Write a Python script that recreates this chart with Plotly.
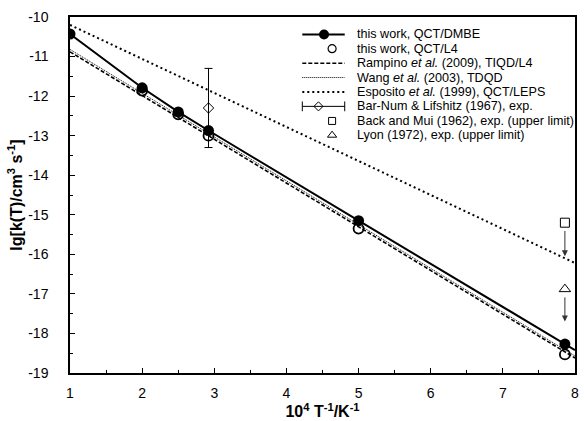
import plotly.graph_objects as go

# ---------------- data ----------------
x_dmbe = [1.0, 2.0, 2.5, 2.92, 5.0, 7.86]
y_dmbe = [-10.43, -11.79, -12.40, -12.87, -15.15, -18.27]
x_dmbe_line = [1.0, 2.0, 2.5, 2.92, 5.0, 7.86, 8.0]
y_dmbe_line = [-10.43, -11.79, -12.40, -12.87, -15.15, -18.27, -18.42]

x_l4 = [2.0, 2.5, 2.92, 5.0, 7.86]
y_l4 = [-11.86, -12.46, -13.00, -15.35, -18.53]

x_rampino = [1.0, 8.0]
y_rampino = [-10.88, -18.62]
x_wang = [1.0, 8.0]
y_wang = [-10.82, -18.57]
x_esposito = [1.0, 8.0]
y_esposito = [-10.20, -16.22]

x_barnum = [2.92]
y_barnum = [-12.30]
err_barnum = [1.0]

x_back = [7.86]
y_back = [-15.20]
back_limit_to = [-16.05]

x_lyon = [7.86]
y_lyon = [-16.88]
lyon_limit_to = [-17.70]

legend_labels = [
    "this work, QCT/DMBE",
    "this work, QCT/L4",
    "Rampino <i>et al.</i> (2009), TIQD/L4",
    "Wang <i>et al.</i> (2003), TDQD",
    "Esposito <i>et al.</i> (1999), QCT/LEPS",
    "Bar-Num &amp; Lifshitz (1967), exp.",
    "Back and Mui (1962), exp. (upper limit)",
    "Lyon (1972), exp. (upper limit)",
]

x_ticks = [1, 2, 3, 4, 5, 6, 7, 8]
y_ticks = [-10, -11, -12, -13, -14, -15, -16, -17, -18, -19]

# ---------------- styles ----------------
FONT = "Arial, Liberation Sans, sans-serif"
BLK = "black"
style_dmbe_line = dict(color=BLK, width=2)
style_rampino = dict(color=BLK, width=1.6, dash="4px,2px")
style_wang = dict(color=BLK, width=1, dash="1px,1px")
style_esposito = dict(color=BLK, width=2, dash="2px,3px")

fig = go.Figure()

fig.add_trace(go.Scatter(x=x_esposito, y=y_esposito, mode="lines", line=style_esposito, showlegend=False))
fig.add_trace(go.Scatter(x=x_wang, y=y_wang, mode="lines", line=style_wang, showlegend=False))
fig.add_trace(go.Scatter(x=x_rampino, y=y_rampino, mode="lines", line=style_rampino, showlegend=False))
fig.add_trace(go.Scatter(x=x_dmbe_line, y=y_dmbe_line, mode="lines", line=style_dmbe_line, showlegend=False))
fig.add_trace(go.Scatter(x=x_dmbe, y=y_dmbe, mode="markers",
                         marker=dict(symbol="circle", size=11, color=BLK), showlegend=False))
fig.add_trace(go.Scatter(x=x_l4, y=y_l4, mode="markers",
                         marker=dict(symbol="circle-open", size=10, color=BLK, line=dict(width=1.8)),
                         showlegend=False))
fig.add_trace(go.Scatter(x=x_barnum, y=y_barnum, mode="markers",
                         error_y=dict(type="data", array=err_barnum, color=BLK, thickness=1, width=4),
                         marker=dict(symbol="diamond-open", size=8, color=BLK, line=dict(width=1)),
                         showlegend=False))
fig.add_trace(go.Scatter(x=x_back, y=y_back, mode="markers",
                         marker=dict(symbol="square", size=9, color="white", line=dict(width=1, color=BLK)),
                         showlegend=False))
fig.add_trace(go.Scatter(x=x_lyon, y=y_lyon, mode="markers",
                         marker=dict(symbol="triangle-up", size=10, color="white", line=dict(width=1, color=BLK)),
                         showlegend=False))

annotations = []
for xs, ys, yt in [(x_back, y_back, back_limit_to), (x_lyon, y_lyon, lyon_limit_to)]:
    annotations.append(dict(x=xs[0], y=yt[0], ax=xs[0], ay=ys[0] - 0.17, xref="x", yref="y",
                            axref="x", ayref="y", showarrow=True, arrowhead=2, arrowsize=1.2,
                            arrowwidth=1, arrowcolor="#333", text=""))

# ---------------- hand-made legend on an overlay axis (0..1 over the plot area) ----------------
L_X0, L_X1, L_TXT = 0.460, 0.544, 0.564
row_y = [0.951, 0.911, 0.870, 0.830, 0.789, 0.749, 0.708, 0.668]
X_MARK_A, X_MARK_B, X_DIAM = 0.503, 0.519, 0.492

def leg(**kw):
    fig.add_trace(go.Scatter(xaxis="x2", yaxis="y2", showlegend=False, hoverinfo="skip", **kw))

leg(x=[L_X0, L_X1], y=[row_y[0]] * 2, mode="lines", line=style_dmbe_line)
leg(x=[X_MARK_A], y=[row_y[0]], mode="markers", marker=dict(symbol="circle", size=10, color=BLK))
leg(x=[X_MARK_B], y=[row_y[1]], mode="markers",
    marker=dict(symbol="circle-open", size=8, color=BLK, line=dict(width=1.2)))
leg(x=[L_X0, L_X1], y=[row_y[2]] * 2, mode="lines", line=style_rampino)
leg(x=[L_X0, L_X1], y=[row_y[3]] * 2, mode="lines", line=style_wang)
leg(x=[L_X0, L_X1], y=[row_y[4]] * 2, mode="lines", line=style_esposito)
leg(x=[L_X0, L_X1], y=[row_y[5]] * 2, mode="lines+markers", line=dict(color=BLK, width=1),
    marker=dict(symbol="line-ns-open", size=7, color=BLK, line=dict(width=1)))
leg(x=[X_DIAM], y=[row_y[5]], mode="markers",
    marker=dict(symbol="diamond-open", size=7, color=BLK, line=dict(width=1)))
leg(x=[X_MARK_B], y=[row_y[6]], mode="markers",
    marker=dict(symbol="square", size=7, color="white", line=dict(width=1, color=BLK)))
leg(x=[X_MARK_B], y=[row_y[7]], mode="markers",
    marker=dict(symbol="triangle-up", size=8, color="white", line=dict(width=1, color=BLK)))

for lab, yy in zip(legend_labels, row_y):
    annotations.append(dict(x=L_TXT, y=yy, xref="x2", yref="y2", text=lab, showarrow=False,
                            xanchor="left", yanchor="middle", font=dict(family=FONT, size=12.6, color=BLK)))

axis_common = dict(showline=True, linewidth=1.5, linecolor=BLK, mirror=True, showgrid=False,
                   zeroline=False, ticks="inside", ticklen=5, tickwidth=1, tickcolor=BLK,
                   tickfont=dict(family=FONT, size=14, color=BLK))

fig.update_layout(
    width=584, height=421,
    margin=dict(l=70, r=5, t=17, b=46),
    paper_bgcolor="white", plot_bgcolor="white",
    font=dict(family=FONT, color=BLK),
    xaxis=dict(range=[1, 8], tickvals=x_ticks, ticktext=[str(v) for v in x_ticks],
               minor=dict(dtick=0.5, ticks="inside", ticklen=3, tickcolor=BLK),
               ticklabelstandoff=6,
               title=dict(text="<b>10<sup>4</sup> T<sup>-1</sup>/K<sup>-1</sup></b>",
                          font=dict(family=FONT, size=16, color=BLK), standoff=4),
               **axis_common),
    yaxis=dict(range=[-19, -10], tickvals=y_ticks, ticktext=[str(v) for v in y_ticks],
               minor=dict(dtick=0.5, ticks="inside", ticklen=3, tickcolor=BLK),
               ticklabelstandoff=17,
               title=dict(text="<b>lg[k(T)/cm<sup>3</sup> s<sup>-1</sup>]</b>",
                          font=dict(family=FONT, size=16, color=BLK), standoff=2),
               **axis_common),
    xaxis2=dict(overlaying="x", range=[0, 1], visible=False, fixedrange=True),
    yaxis2=dict(overlaying="y", range=[0, 1], visible=False, fixedrange=True),
    annotations=annotations,
    showlegend=False,
)

fig.write_html("out.html")
